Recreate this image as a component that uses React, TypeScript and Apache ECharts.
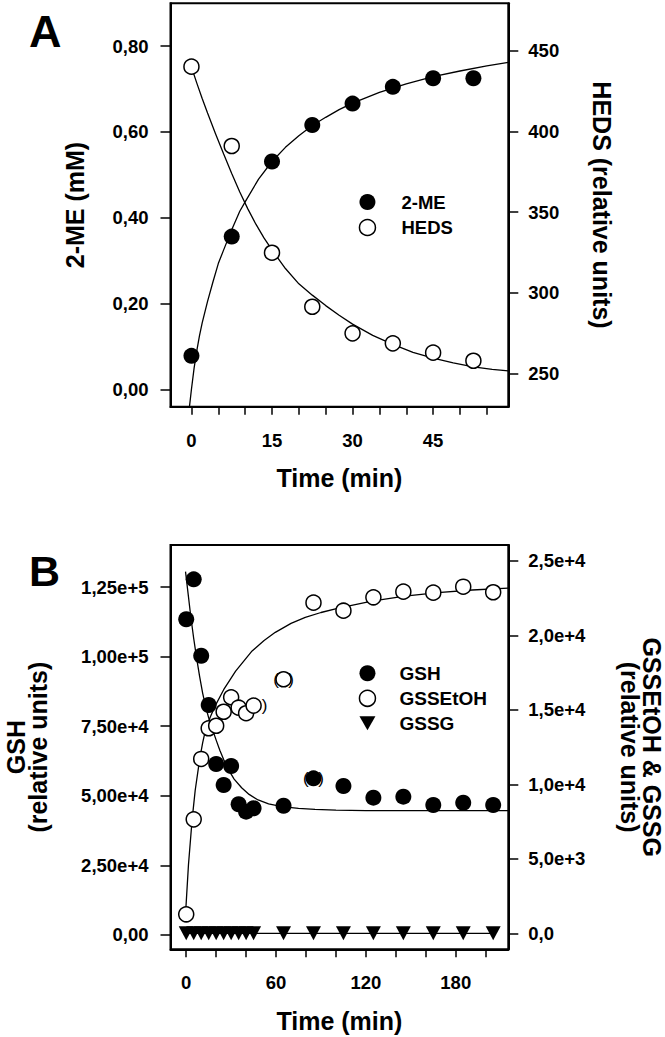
import React, { useEffect, useRef } from "react";
import * as echarts from "echarts";

const FONT = "'Liberation Sans', Arial, Helvetica, sans-serif";

// ---------- Panel A ----------
const aTime = [0, 7.5, 15, 22.5, 30, 37.5, 45, 52.5];
const aME = [0.078, 0.356, 0.531, 0.616, 0.666, 0.705, 0.725, 0.725];
const aHEDS = [440.2, 391.0, 324.8, 291.3, 274.8, 268.6, 262.8, 257.8];
const aFitMETime = [-0.37, 0, 0.5, 1, 1.5, 2, 3, 4, 5, 6, 7.5, 9, 10, 12.5, 15, 17.5, 20, 22.5, 25, 27.5, 30, 35, 40, 45, 50, 55, 59];
const aFitME = [-0.041, 0.0, 0.05, 0.09, 0.125, 0.155, 0.205, 0.25, 0.293, 0.325, 0.372, 0.415, 0.437, 0.49, 0.531, 0.564, 0.591, 0.615, 0.634, 0.652, 0.667, 0.692, 0.712, 0.729, 0.742, 0.754, 0.762];
const aFitHEDSTime = [0, 1, 2, 3, 4.5, 6, 7.5, 9, 10.5, 12, 13.5, 15, 17.5, 20, 22.5, 25, 27.5, 30, 33.75, 37.5, 41.25, 45, 48.75, 52.5, 56, 59];
const aFitHEDS = [440, 430, 420.5, 411.5, 398.5, 386, 374, 362.5, 352, 342.5, 334, 326.5, 315, 305.5, 298.5, 292, 286, 280.5, 273.5, 268, 263, 259.5, 256.5, 254, 252.5, 251.5];
const aXTicks = [0, 5, 10, 15, 20, 25, 30, 35, 40, 45, 50, 55];
const aXLabels = [0, 15, 30, 45];
const aLeftTicks = [0, 0.2, 0.4, 0.6, 0.8];
const aRightTicks = [250, 300, 350, 400, 450];

// ---------- Panel B ----------
const bTime = [0, 5, 10, 15, 20, 25, 30, 35, 40, 45, 65, 85, 105, 125, 145, 165, 185, 205];
const bGSH = [113400, 127760, 100320, 82610, 61420, 53880, 60700, 46950, 44290, 45510, 46440, 56280, 53520, 49320, 49680, 46700, 47520, 46700];
const bGSSEtOH = [1275, 7650, 11700, 13760, 13930, 14870, 15840, 15140, 14770, 15280, 17050, 22190, 21650, 22550, 22930, 22860, 23260, 22890];
const bGSSG = [0, 0, 0, 0, 0, 0, 0, 0, 0, 0, 0, 0, 0, 0, 0, 0, 0, 0];
const bGSHBracketBoth = [85];
const bGSSEtOHBracketBoth = [65];
const bGSSEtOHBracketRight = [45];
const bFitGSHTime = [-0.47, 1.5, 3, 5, 7, 9, 11, 13, 15, 17.5, 20, 22.5, 25, 28, 32, 37, 42, 48, 55, 64, 75, 86, 100, 120, 160, 215];
const bFitGSH = [130500, 121500, 114600, 106500, 99300, 92700, 86800, 82000, 78000, 73900, 70000, 66300, 63000, 59600, 56000, 52900, 50500, 48500, 47100, 46100, 45450, 45150, 44850, 44700, 44650, 44650];
const bFitGSSEtOHTime = [-0.5, 1.5, 4, 6, 9, 11, 13, 16, 19.5, 25, 33, 44, 52, 59.5, 70, 79.5, 90, 101.7, 124, 146, 168, 191, 215];
const bFitGSSEtOH = [1230, 4600, 7700, 9600, 11700, 12800, 13700, 14500, 15300, 16350, 17600, 18950, 19650, 20200, 20800, 21200, 21530, 21820, 22300, 22630, 22860, 23040, 23170];
const bFitGSSGTime = [0, 205];
const bFitGSSG = [0, 0];
const bXTicks = [0, 20, 40, 60, 80, 100, 120, 140, 160, 180, 200];
const bXLabels = [0, 60, 120, 180];
const bLeftTicks = [0, 25000, 50000, 75000, 100000, 125000];
const bRightTicks = [0, 5000, 10000, 15000, 20000, 25000];

const pairs = (xs: number[], ys: number[]) => xs.map((x, i) => [x, ys[i]]);
const commaFixed = (d: number) => (v: number) => v.toFixed(d).replace(".", ",");
const sci = (d: number, zero: string) => (v: number) =>
  v === 0 ? zero : v.toExponential(d).replace(".", ",");

const black = "#000";
const tickFont = { fontSize: 18.5, fontWeight: "bold" as const, color: black, fontFamily: FONT };
const nameFont = { fontSize: 25, fontWeight: "bold" as const, color: black, fontFamily: FONT };

function xAxisDef(gridIndex: number, min: number, max: number, ticks: number[], labels: number[]) {
  return {
    type: "value",
    gridIndex,
    min,
    max,
    position: "bottom",
    name: "Time (min)",
    nameLocation: "middle",
    nameGap: 59,
    nameTextStyle: nameFont,
    axisLine: { show: true, onZero: false, lineStyle: { color: black, width: 2 } },
    axisTick: { show: true, inside: false, length: 8, customValues: ticks, lineStyle: { color: black, width: 1.5 } },
    axisLabel: { show: true, customValues: labels, margin: 24, ...tickFont, formatter: (v: number) => String(v) },
    splitLine: { show: false },
  };
}

function yAxisDef(
  gridIndex: number,
  position: string,
  min: number,
  max: number,
  ticks: number[],
  formatter: (v: number) => string,
  name: string,
  nameGap: number,
  margin: number
) {
  return {
    type: "value",
    gridIndex,
    position,
    min,
    max,
    name,
    nameLocation: "middle",
    nameGap,
    nameRotate: position === "right" ? -90 : 90,
    nameTextStyle: { ...nameFont, lineHeight: 21.4 },
    axisLine: { show: true, onZero: false, lineStyle: { color: black, width: 2 } },
    axisTick: { show: true, inside: false, length: 10, customValues: ticks, lineStyle: { color: black, width: 1.5 } },
    axisLabel: { show: true, customValues: ticks, margin, ...tickFont, formatter },
    splitLine: { show: false },
  };
}

const filled = { symbol: "circle", symbolSize: 16, itemStyle: { color: black, borderWidth: 0, opacity: 1 } };
const open = { symbol: "circle", symbolSize: 15, itemStyle: { color: "#fff", borderColor: black, borderWidth: 1.5, opacity: 1 } };
const fitLine = {
  type: "line",
  showSymbol: false,
  symbol: "none",
  smooth: false,
  lineStyle: { color: black, width: 1.3, opacity: 1 },
  z: 2,
  silent: true,
};
const labelBase = {
  show: true,
  fontSize: 17,
  fontWeight: "normal",
  color: black,
  fontFamily: FONT,
  textBorderWidth: 0,
  textBorderColor: "transparent",
  textShadowBlur: 0,
};
const bracketLabel = { ...labelBase, position: "inside", formatter: "(  )" };
const rightBracketLabel = { ...labelBase, position: "right", distance: 0, formatter: ")" };

function withBrackets(xs: number[], ys: number[], both: number[], right: number[]) {
  return xs.map((x, i) => {
    if (both.includes(x)) return { value: [x, ys[i]], label: bracketLabel };
    if (right.includes(x)) return { value: [x, ys[i]], label: rightBracketLabel };
    return { value: [x, ys[i]] };
  });
}

function legendDef(left: number, top: number, fontSize: number, gap: number, textPad: number, data: any[]) {
  return {
    orient: "vertical",
    left,
    top,
    padding: 0,
    itemWidth: 16,
    itemHeight: 16,
    itemGap: gap,
    selectedMode: false,
    symbolRotate: 0,
    textStyle: { fontSize, fontWeight: "bold", color: black, fontFamily: FONT, padding: [0, 0, 0, textPad] },
    data,
  };
}

const option: any = {
  animation: false,
  textStyle: { fontFamily: FONT },
  grid: [
    { left: 170.5, top: 3.3, width: 337.8, height: 403.4, show: true, borderColor: black, borderWidth: 2, backgroundColor: "transparent", containLabel: false, outerBoundsMode: "none" },
    { left: 170.5, top: 545, width: 337.8, height: 404.3, show: true, borderColor: black, borderWidth: 2, backgroundColor: "transparent", containLabel: false, outerBoundsMode: "none" },
  ],
  xAxis: [xAxisDef(0, -3.9, 59, aXTicks, aXLabels), xAxisDef(1, -10.5, 215.1, bXTicks, bXLabels)],
  yAxis: [
    yAxisDef(0, "left", -0.0406, 0.8998, aLeftTicks, commaFixed(2), "2-ME (mM)", 85, 22),
    yAxisDef(0, "right", 229.3, 479.5, aRightTicks, (v) => String(v), "HEDS (relative units)", 82.7, 20),
    yAxisDef(1, "left", -5140, 140090, bLeftTicks, sci(2, "0,00"), "GSH\n(relative units)", 122, 22),
    yAxisDef(1, "right", -1074, 26060, bRightTicks, sci(1, "0,0"), "GSSEtOH & GSSG\n(relative units)", 111.5, 20),
  ],
  legend: [
    legendDef(358.7, 192.5, 18.5, 6.5, 21, [
      { name: "2-ME", icon: "circle", itemStyle: { color: black, borderWidth: 0, opacity: 1 } },
      { name: "HEDS", icon: "circle", itemStyle: { color: "#fff", borderColor: black, borderWidth: 1.5, opacity: 1 } },
    ]),
    legendDef(358.7, 663.8, 19, 6, 19, [
      { name: "GSH", icon: "circle", itemStyle: { color: black, borderWidth: 0, opacity: 1 } },
      { name: "GSSEtOH", icon: "circle", itemStyle: { color: "#fff", borderColor: black, borderWidth: 1.5, opacity: 1 } },
      { name: "GSSG", icon: "path://M0,0L16,0L8,14Z", itemStyle: { color: black, borderWidth: 0, opacity: 1 } },
    ]),
  ],
  graphic: [
    { type: "text", left: 29, top: 9, style: { text: "A", fontSize: 45, fontWeight: "bold", fill: black, fontFamily: FONT, textVerticalAlign: "top" } },
    { type: "text", left: 29, top: 549, style: { text: "B", fontSize: 43, fontWeight: "bold", fill: black, fontFamily: FONT, textVerticalAlign: "top" } },
  ],
  series: [
    { ...fitLine, name: "2-ME fit", xAxisIndex: 0, yAxisIndex: 0, data: pairs(aFitMETime, aFitME) },
    { ...fitLine, name: "HEDS fit", xAxisIndex: 0, yAxisIndex: 1, data: pairs(aFitHEDSTime, aFitHEDS) },
    { type: "scatter", name: "2-ME", xAxisIndex: 0, yAxisIndex: 0, z: 3, silent: true, ...filled, data: pairs(aTime, aME) },
    { type: "scatter", name: "HEDS", xAxisIndex: 0, yAxisIndex: 1, z: 3, silent: true, ...open, data: pairs(aTime, aHEDS) },

    { ...fitLine, name: "GSH fit", xAxisIndex: 1, yAxisIndex: 2, data: pairs(bFitGSHTime, bFitGSH) },
    { ...fitLine, name: "GSSEtOH fit", xAxisIndex: 1, yAxisIndex: 3, data: pairs(bFitGSSEtOHTime, bFitGSSEtOH) },
    { ...fitLine, name: "GSSG fit", xAxisIndex: 1, yAxisIndex: 3, data: pairs(bFitGSSGTime, bFitGSSG) },
    { type: "scatter", name: "GSH", xAxisIndex: 1, yAxisIndex: 2, z: 3, silent: true, ...filled, data: withBrackets(bTime, bGSH, bGSHBracketBoth, []) },
    { type: "scatter", name: "GSSEtOH", xAxisIndex: 1, yAxisIndex: 3, z: 4, silent: true, ...open, data: withBrackets(bTime, bGSSEtOH, bGSSEtOHBracketBoth, bGSSEtOHBracketRight) },
    { type: "scatter", name: "GSSG", xAxisIndex: 1, yAxisIndex: 3, z: 4, silent: true, symbol: "triangle", symbolRotate: 180, symbolSize: [15, 14], itemStyle: { color: black, opacity: 1 }, data: pairs(bTime, bGSSG) },
  ],
};

export default function App() {
  const ref = useRef<HTMLDivElement>(null);
  useEffect(() => {
    if (!ref.current) return;
    const chart = echarts.init(ref.current, null, { renderer: "svg" });
    chart.setOption(option);
    return () => chart.dispose();
  }, []);
  return <div ref={ref} style={{ position: "absolute", left: 0, top: 0, width: 665, height: 1037, background: "#fff" }} />;
}
